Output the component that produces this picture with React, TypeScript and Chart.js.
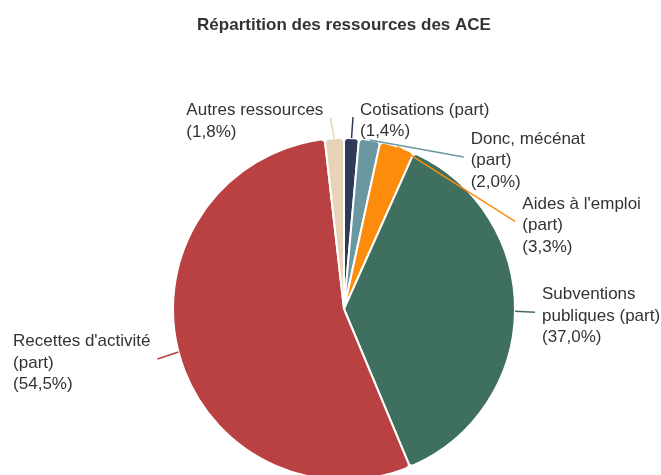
import React, { useEffect, useRef } from "react";
import { Chart, registerables } from "chart.js";

Chart.register(...registerables);

const TITLE = "Répartition des ressources des ACE";
const categories = [
  "Cotisations (part)",
  "Donc, mécénat\n(part)",
  "Aides à l'emploi\n(part)",
  "Subventions\npubliques (part)",
  "Recettes d'activité\n(part)",
  "Autres ressources",
];
const values = [1.4, 2.0, 3.3, 37.0, 54.5, 1.8];
const colors = ["#2d3b57", "#6b98a0", "#fd8b0c", "#3f705f", "#b94141", "#e6d3b8"];

// label layout: connector end offset from slice edge point, side of text
const labelLayout = [
  { dx: 1.5, dy: -21, side: "right" },
  { dx: 94, dy: 17, side: "right" },
  { dx: 118, dy: 75, side: "right" },
  { dx: 20, dy: 1, side: "right" },
  { dx: -21, dy: 7, side: "left" },
  { dx: -4, dy: -21, side: "left" },
];

const FONT = '"Liberation Sans", Arial, sans-serif';

const labelPlugin = {
  id: "pieLabels",
  afterDraw(chart: any) {
    const ctx = chart.ctx;
    const meta = chart.getDatasetMeta(0);
    const area = chart.chartArea;
    ctx.save();
    // title
    ctx.font = `bold 17px ${FONT}`;
    ctx.fillStyle = "#333333";
    ctx.textAlign = "center";
    ctx.textBaseline = "alphabetic";
    ctx.fillText(TITLE, (area.left + area.right) / 2, 30);

    ctx.font = `17px ${FONT}`;
    ctx.textAlign = "left";
    const lh = 21.5;
    meta.data.forEach((arc: any, i: number) => {
      const p = arc.getProps(["x", "y", "startAngle", "endAngle", "outerRadius"], true);
      const mid = (p.startAngle + p.endAngle) / 2;
      const ex = p.x + Math.cos(mid) * p.outerRadius;
      const ey = p.y + Math.sin(mid) * p.outerRadius;
      const lay = labelLayout[i];
      const tx = ex + lay.dx;
      const ty = ey + lay.dy;
      ctx.strokeStyle = colors[i];
      ctx.lineWidth = 1.5;
      ctx.beginPath();
      ctx.moveTo(ex, ey);
      ctx.lineTo(tx, ty);
      ctx.stroke();

      const pct = "(" + values[i].toFixed(1).replace(".", ",") + "%)";
      const lines = categories[i].split("\n").concat([pct]);
      const n = lines.length;
      const maxW = Math.max(...lines.map((l) => ctx.measureText(l).width));
      const left = lay.side === "right" ? tx + 7 : tx - 7 - maxW;
      const first = ty + 2.5 - ((n - 1) * lh) / 2 + 6;
      ctx.fillStyle = "#333333";
      lines.forEach((l, k) => ctx.fillText(l, left, first + k * lh));
    });
    ctx.restore();
  },
};

export default function App() {
  const ref = useRef<HTMLCanvasElement>(null);
  useEffect(() => {
    if (!ref.current) return;
    const chart = new Chart(ref.current, {
      type: "pie",
      data: {
        labels: categories.map((c) => c.replace("\n", " ")),
        datasets: [
          {
            data: values,
            backgroundColor: colors,
            borderColor: "#ffffff",
            borderWidth: 2,
            borderRadius: 4,
          },
        ],
      },
      options: {
        animation: false,
        responsive: true,
        maintainAspectRatio: false,
        radius: 171,
        layout: { padding: { left: 27, right: 0, top: 143, bottom: 0 } },
        plugins: {
          legend: { display: false },
          tooltip: { enabled: false },
          title: { display: false },
        },
      } as any,
      plugins: [labelPlugin],
    });
    return () => chart.destroy();
  }, []);
  return (
    <div style={{ position: "fixed", left: 0, top: 0, width: 661, height: 475, background: "#fff" }}>
      <canvas ref={ref} />
    </div>
  );
}
